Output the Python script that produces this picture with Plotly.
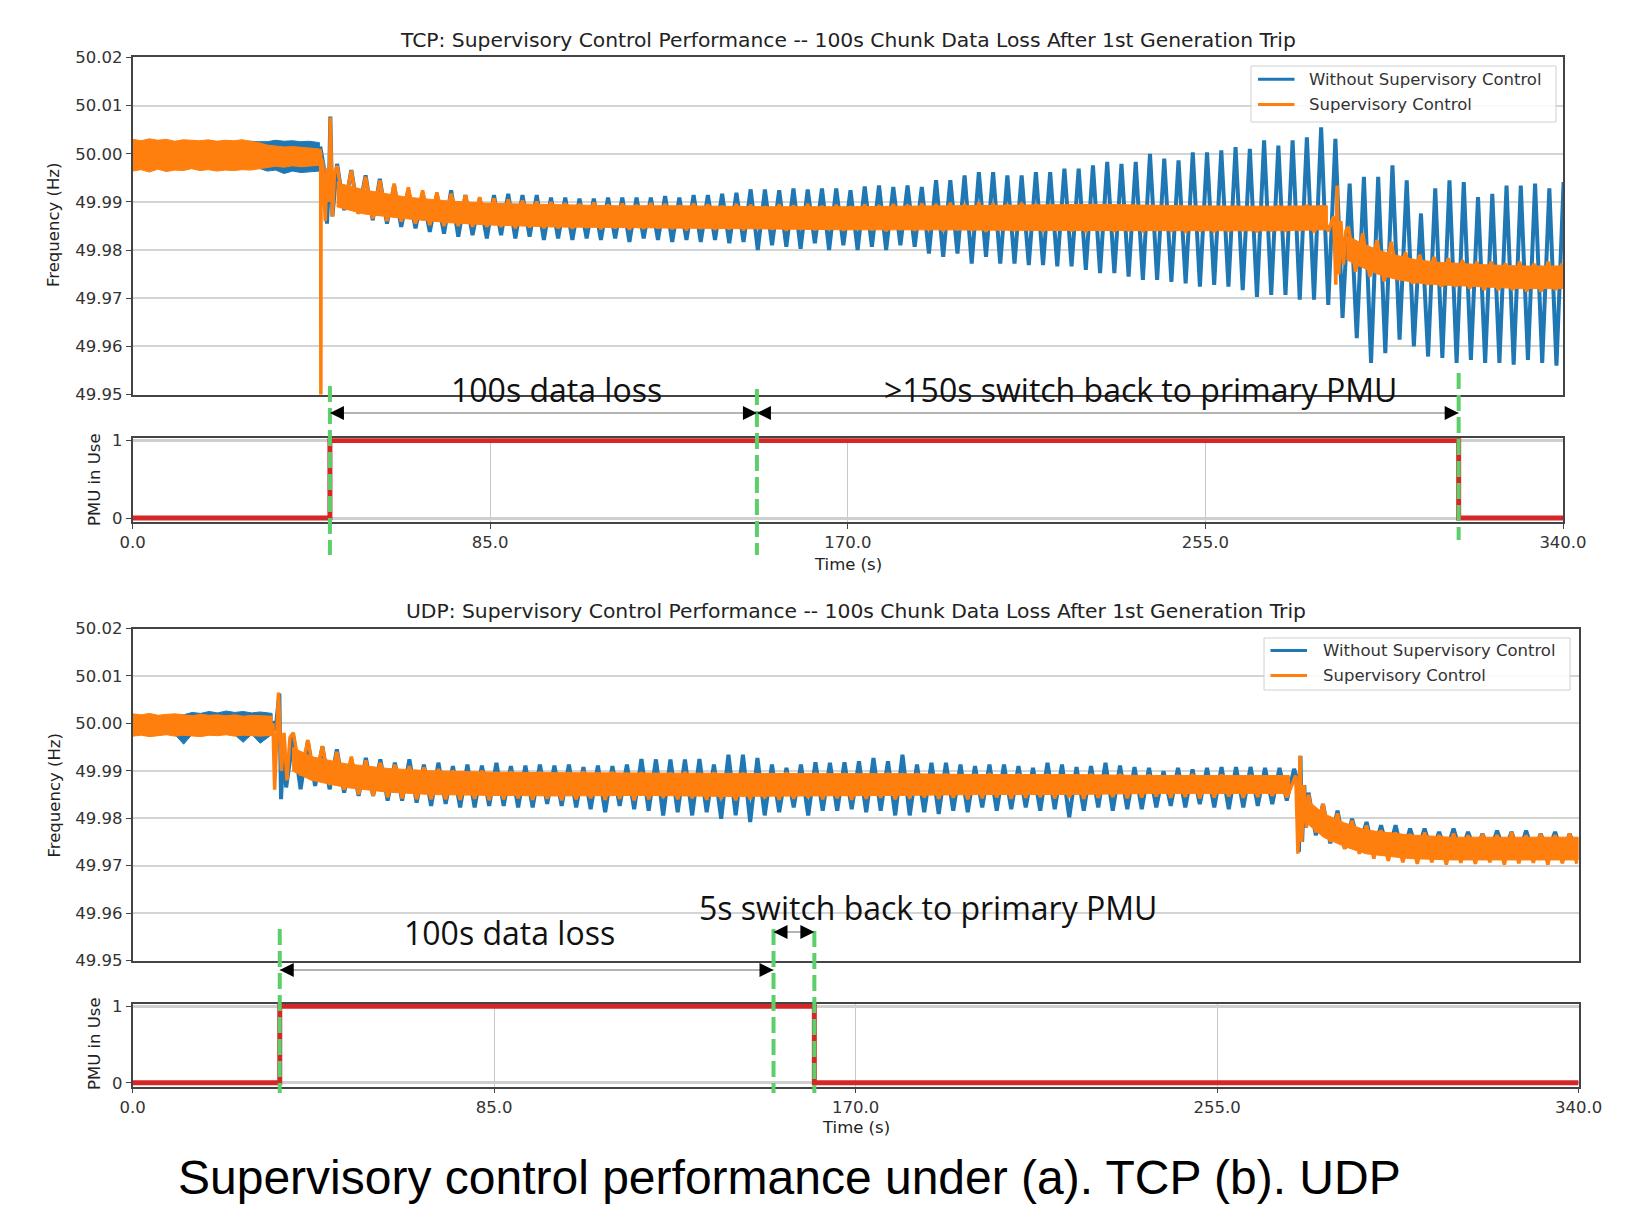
import plotly.graph_objects as go

W, H = 1637, 1210

BLUE = "#1f77b4"
ORANGE = "#ff7f0e"
RED = "#d62728"
GREEN = "#5ccf6a"

# ======================= TCP (values: mHz deviation from 50 Hz) =======================
TCP_PRE_T = [0, 2, 4, 6, 8, 10, 12, 14, 16, 18, 20, 22, 24, 26, 28, 30, 32, 34, 36, 38, 40, 42, 44.4]
TCP_WO_PRE_HI = [2.6, 2.4, 2.8, 2.5, 2.7, 2.3, 2.6, 2.5, 2.4, 2.7, 2.5, 2.6, 2.3, 2.5, 2.6, 2.5, 2.5, 2.8, 2.6, 2.7, 2.5, 2.6, 2.3]
TCP_WO_PRE_LO = [-3.2, -3.0, -3.4, -3.0, -3.3, -3.1, -3.2, -2.9, -3.2, -3.0, -3.3, -3.1, -3.2, -3.0, -3.1, -3.0, -3.6, -3.4, -4.1, -3.6, -3.9, -3.7, -3.6]
TCP_SC_PRE_HI = [3.0, 2.7, 3.1, 2.8, 3.0, 2.6, 2.9, 2.8, 2.7, 2.9, 2.6, 2.8, 2.7, 2.9, 2.6, 2.3, 1.8, 1.6, 1.4, 1.5, 1.3, 1.2, 1.0]
TCP_SC_PRE_LO = [-3.6, -3.3, -3.8, -3.2, -3.7, -3.4, -3.5, -3.1, -3.5, -3.3, -3.6, -3.4, -3.5, -3.3, -3.4, -3.2, -2.9, -2.6, -2.8, -2.5, -2.7, -2.6, -2.4]

TCP_WO_TRIP_T = [44.6, 45.4, 46.2, 46.7, 47.0, 47.5]
TCP_WO_TRIP = [1.5, -2.5, -14.5, -6.0, 7.7, -13.0]
TCP_SC_TRIP_T = [44.5, 44.7, 44.75, 44.8, 45.2, 45.8, 46.2, 46.7, 47.0, 47.5, 48.0]
TCP_SC_TRIP = [1.0, 0.0, -60.0, -1.0, -2.0, -14.0, -3.0, -10.0, 7.5, -13.0, -4.0]

TCP_CYCLE_START = 48.6
TCP_PERIOD = 3.39
TCP_WO_HI = [-2.1, -3.4, -4.5, -5.2, -6.6, -7.6, -8.3, -8.6, -7.6, -8.6,
             -9.3, -8.6, -8.3, -8.6, -8.6, -9.1, -9.1, -9.3, -9.3, -9.1,
             -9.1, -9.1, -9.1, -8.8, -9.1, -8.6, -8.6, -8.3, -8.1, -7.4,
             -7.4, -7.6, -7.2, -7.4, -7.2, -7.2, -7.6, -6.8, -6.6, -6.9,
             -6.6, -6.9, -5.5, -5.5, -4.5, -3.8, -3.8, -4.5, -4.5, -3.8,
             -3.8, -3.1, -3.1, -2.4, -1.7, -2.1, -1.7, 0.0, -1.0, -1.4,
             0.3, 0.3, 0.7, 1.4, 1.0, 2.8, 1.7, 2.8, 3.4, 5.5,
             3.1,
             -6.2, -4.8, -4.8, -2.4, -5.5, -12.4, -7.2, -5.5, -5.9, -9.0,
             -8.3, -6.6, -6.6, -6.2, -7.2, -5.9]
TCP_WO_LO = [-11.7, -12.4, -13.8, -14.5, -15.2, -15.5, -16.2, -16.6, -17.2, -16.9,
             -17.6, -16.9, -17.6, -17.2, -17.9, -17.6, -17.9, -17.6, -17.9, -17.6,
             -18.3, -17.6, -17.9, -18.3, -17.9, -18.3, -17.9, -18.6, -18.3, -20.0,
             -19.0, -19.3, -19.7, -18.6, -20.0, -19.0, -20.0, -19.3, -20.0, -19.0,
             -19.3, -20.7, -21.4, -20.7, -22.8, -21.4, -22.8, -22.8, -23.1, -23.1,
             -23.4, -23.4, -24.1, -24.8, -24.8, -25.5, -26.2, -26.2, -26.6, -26.9,
             -27.6, -27.2, -27.6, -28.3, -29.7, -29.3, -29.3, -30.3, -30.3, -31.4,
             -34.1,
             -38.3, -43.4, -41.4, -38.6, -40.0, -42.1, -42.4, -43.4, -42.8, -43.4,
             -43.4, -43.8, -42.8, -43.4, -44.0, -43.6]

TCP_SC_HI = [-2.5, -3.5, -4.8, -5.5, -6.2, -7.0, -7.6, -8.0, -8.3, -8.6,
             -9.0, -9.3, -9.5, -9.7, -9.9, -10.0,
             -10.2, -10.4, -10.1, -10.5, -10.3, -10.6, -10.2, -10.4, -10.7, -10.3,
             -10.5, -10.8, -10.4, -10.6, -10.9, -10.5, -10.7, -10.4, -10.8, -10.6,
             -10.9, -10.5, -10.7, -10.4, -10.6, -10.3, -10.5, -10.2, -10.4, -10.1,
             -10.3, -10.5, -10.2, -10.4, -10.6, -10.8, -10.5, -10.9, -11.0, -10.7,
             -11.1, -10.8, -11.0, -10.7, -11.1, -10.9, -11.0, -10.8, -11.2, -10.9,
             -10.7, -10.9, -10.6, -10.8]
TCP_SC_LO = [-11.5, -12.5, -13.5, -14.0, -14.1, -14.5, -14.8, -15.0, -15.0, -15.2,
             -15.2, -15.2, -15.5, -15.3, -15.5, -15.5,
             -15.6, -15.4, -15.7, -15.5, -15.8, -15.6, -15.5, -15.7, -15.9, -15.6,
             -15.8, -15.7, -15.9, -15.6, -15.8, -16.0, -15.7, -15.9, -15.8, -16.0,
             -15.7, -15.9, -16.1, -15.8, -16.0, -15.9, -16.1, -15.8, -16.0, -16.2,
             -15.9, -16.1, -16.0, -16.2, -15.9, -16.1, -16.3, -16.0, -16.2, -16.1,
             -16.3, -16.0, -16.2, -16.4, -16.1, -16.3, -16.2, -16.0, -16.3, -16.1,
             -16.2, -16.0, -16.3, -16.1]
TCP_SC_TRIP2_T = [285.5, 286.0, 286.3, 286.7, 287.2, 287.8, 288.4]
TCP_SC_TRIP2 = [-13.0, -27.2, -6.6, -25.0, -14.0, -23.0, -16.0]
TCP_SC_POST_START = 289.0
TCP_SC_POST_HI = [-15.2, -16.5, -17.9, -18.3, -20.5, -21.0, -21.4, -21.7, -22.1, -22.4,
                  -22.4, -22.8, -22.4, -22.8, -22.4, -22.8]
TCP_SC_POST_LO = [-24.5, -25.5, -26.5, -26.2, -27.0, -27.2, -27.6, -27.6, -28.0, -28.3,
                  -28.3, -28.3, -28.6, -28.6, -28.3, -28.6]
TCP_SC_CORE1_T = [48.5, 55, 65, 75, 85, 100, 115, 130, 150, 170, 190, 210, 230, 250, 270, 284]
TCP_SC_CORE1_TOP = [-6.0, -7.5, -9.0, -9.8, -10.3, -10.6, -10.8, -10.8, -11.0, -11.0, -10.8, -10.7, -10.5, -10.8, -10.9, -10.8]
TCP_SC_CORE1_BOT = [-11.0, -12.5, -13.5, -14.3, -14.8, -15.2, -15.3, -15.5, -15.6, -15.8, -15.8, -15.9, -15.9, -16.0, -16.0, -15.8]
TCP_SC_CORE2_T = [288.5, 292, 296, 300, 305, 310, 320, 330, 340]
TCP_SC_CORE2_TOP = [-17.0, -18.5, -20.0, -21.0, -22.0, -22.5, -23.0, -23.3, -23.3]
TCP_SC_CORE2_BOT = [-22.0, -23.5, -25.0, -26.0, -26.8, -27.2, -27.6, -28.0, -28.0]

TCP_PMU_T = [0, 46.9, 315.2, 340]
TCP_PMU = [0, 1, 0, 0]
TCP_EVENTS = [46.9, 148.4, 315.2]

# ======================= UDP =======================
UDP_PRE_T = [0, 2, 4, 6, 8, 10, 12, 14, 16, 18, 20, 22, 24, 26, 28, 30, 32.8]
UDP_WO_PRE_HI = [1.6, 1.5, 1.7, 1.5, 1.6, 1.7, 1.8, 2.3, 2.1, 2.5, 2.2, 2.6, 2.3, 2.5, 2.2, 2.4, 2.1]
UDP_WO_PRE_LO = [-2.3, -2.2, -2.4, -2.2, -2.3, -2.4, -4.4, -2.3, -2.2, -2.4, -2.3, -2.2, -2.4, -4.0, -2.3, -4.2, -2.3]
UDP_SC_PRE_HI = [2.0, 1.8, 2.1, 1.7, 1.9, 2.0, 1.8, 1.6, 1.9, 1.7, 1.8, 1.6, 1.8, 1.5, 1.7, 1.6, 1.5]
UDP_SC_PRE_LO = [-2.7, -2.5, -2.8, -2.6, -2.4, -2.7, -2.5, -2.6, -2.8, -2.5, -2.6, -2.4, -2.7, -2.5, -2.6, -2.7, -2.5]

UDP_WO_TRIP_T = [33.0, 33.6, 34.5, 34.9, 35.5, 36.1]
UDP_WO_TRIP = [0.5, -1.5, 6.3, -16.0, -5.0, -13.5]
UDP_SC_TRIP_T = [33.0, 33.4, 34.3, 35.0, 35.6, 36.3, 37.0]
UDP_SC_TRIP = [0.0, -14.0, 6.5, -10.0, -2.0, -12.0, -3.0]

UDP_CYCLE_START = 37.8
UDP_PERIOD = 3.41
UDP_WO_HI = [-2.8, -3.8, -4.9, -5.5, -7.6, -7.3, -7.6, -8.3, -7.6, -8.7,
             -8.3, -9.0, -8.7, -8.9, -8.3, -9.0, -8.9, -8.7, -8.9, -8.7,
             -9.2, -8.9, -9.0, -8.7, -7.5, -7.6, -7.6, -7.6, -7.5, -8.7,
             -6.6, -6.6, -7.3, -8.7, -9.4, -8.7, -8.2, -8.3, -8.2, -8.0,
             -7.3, -8.0,
             -6.6, -8.7, -8.3, -8.3, -8.7, -9.0, -8.7, -8.7, -9.0, -9.4,
             -8.3, -8.7, -9.2, -9.0, -8.3, -8.9, -9.2, -9.4, -10.1, -9.4,
             -9.7, -9.4, -9.2, -9.2, -9.2, -9.4, -9.4]
UDP_WO_LO = [-13.9, -13.2, -13.9, -14.6, -15.3, -15.3, -16.3, -16.3, -16.7, -17.4,
             -17.0, -17.7, -17.7, -17.4, -17.4, -17.7, -17.7, -17.0, -17.4, -17.7,
             -18.1, -18.75, -17.4, -18.1, -18.4, -19.4, -18.75, -19.4, -18.75, -20.1,
             -19.4, -20.8, -19.4, -18.75, -17.7, -19.4, -18.4, -18.4, -18.1, -18.75,
             -18.4, -19.4,
             -19.4, -18.75, -19.1, -18.4, -18.75, -17.7, -18.4, -18.1, -17.7, -18.4,
             -18.1, -19.8, -18.4, -17.7, -18.4, -18.1, -18.1, -17.7, -17.4, -17.7,
             -17.0, -17.7, -18.1, -17.7, -17.4, -17.0, -16.3]
UDP_WO_TRIP2_T = [273.1, 273.9, 274.25, 274.6, 275.0, 275.5, 275.9]
UDP_WO_TRIP2 = [-9.6, -12.0, -27.1, -6.9, -25.0, -13.0, -22.0]
UDP_POST_START = 276.5
UDP_WO_POST_HI = [-14.6, -17.0, -18.4, -20.1, -20.8, -21.5, -21.5, -22.2, -22.2, -22.9,
                  -22.2, -22.9, -23.3, -22.6, -22.9, -22.6, -23.3, -22.9, -23.3]
UDP_WO_POST_LO = [-23.6, -25.3, -26.4, -26.0, -27.1, -27.4, -27.8, -27.1, -27.4, -27.1,
                  -27.4, -27.1, -27.4, -27.1, -27.8, -27.4, -27.1, -27.8, -27.1]

UDP_SC_HI = [-2.0, -3.5, -4.8, -6.0, -7.0, -7.8, -8.3, -8.7, -9.0, -9.3, -9.6,
             -9.9, -10.2, -10.0, -10.3, -10.1, -10.4, -10.2, -10.5, -10.3, -10.1,
             -10.4, -10.2, -10.5, -10.3, -10.6, -10.4, -10.2, -10.5, -10.3, -10.6,
             -10.4, -10.7, -10.5, -10.3, -10.6, -10.4, -10.7, -10.5, -10.8, -10.6,
             -10.4, -10.7, -10.5, -10.8, -10.6, -10.9, -10.7, -10.5, -10.8, -10.6,
             -10.9, -10.7, -11.0, -10.8, -10.6, -10.9, -10.7, -11.0, -10.8, -11.1,
             -10.9, -10.7, -11.0, -10.8, -11.1, -10.9, -11.2, -11.0]
UDP_SC_LO = [-11.0, -12.0, -13.0, -14.0, -15.0, -15.3, -15.6, -15.8, -16.0, -16.0, -16.0,
             -16.1, -15.9, -16.2, -16.0, -15.8, -16.1, -15.9, -16.2, -16.0, -15.8,
             -16.1, -15.9, -16.2, -16.0, -15.7, -16.0, -15.8, -16.1, -15.9, -16.2,
             -16.0, -15.8, -16.1, -15.9, -15.7, -16.0, -15.8, -16.1, -15.9, -15.7,
             -16.0, -15.8, -15.6, -15.9, -15.7, -16.0, -15.8, -15.6, -15.9, -15.7,
             -15.5, -15.8, -15.6, -15.9, -15.7, -15.5, -15.8, -15.6, -15.4, -15.7,
             -15.5, -15.8, -15.6, -15.4, -15.7, -15.5, -15.3, -15.6]
UDP_SC_TRIP2_T = [273.5, 274.0, 274.5, 274.9, 275.4, 276.0]
UDP_SC_TRIP2 = [-11.0, -27.5, -6.8, -25.0, -13.0, -22.0]
UDP_SC_POST_HI = [-15.0, -17.0, -19.0, -20.5, -21.5, -22.5, -23.0, -23.3, -23.0, -23.5,
                  -23.2, -23.6, -23.3, -23.5, -23.0, -23.6, -23.3, -23.5, -23.2]
UDP_SC_POST_LO = [-23.0, -25.0, -26.5, -27.5, -28.5, -29.0, -29.3, -29.6, -29.3, -29.8,
                  -29.4, -29.6, -29.3, -29.8, -29.5, -29.4, -29.8, -29.5, -29.6]
UDP_SC_CORE1_T = [37.5, 42, 50, 60, 70, 85, 100, 120, 140, 160, 180, 200, 220, 240, 260, 272]
UDP_SC_CORE1_TOP = [-5.0, -7.0, -8.5, -9.5, -10.0, -10.3, -10.4, -10.5, -10.5, -10.6, -10.6, -10.8, -10.8, -11.0, -11.0, -11.0]
UDP_SC_CORE1_BOT = [-10.0, -12.0, -13.5, -14.5, -15.0, -15.2, -15.3, -15.2, -15.4, -15.3, -15.2, -15.0, -15.0, -14.8, -14.8, -14.8]
UDP_SC_CORE2_T = [276, 280, 285, 290, 300, 310, 320, 330, 340]
UDP_SC_CORE2_TOP = [-16.0, -19.0, -21.0, -22.5, -23.5, -24.0, -24.0, -24.0, -24.0]
UDP_SC_CORE2_BOT = [-21.0, -24.0, -26.0, -27.5, -28.5, -28.8, -28.8, -28.8, -28.8]

UDP_PMU_T = [0, 34.6, 160.3, 340]
UDP_PMU = [0, 1, 0, 0]
UDP_EVENTS = [34.6, 150.7, 160.3]

FREQ_TICKS = [49.95, 49.96, 49.97, 49.98, 49.99, 50.00, 50.01, 50.02]
TIME_TICKS = [0, 85, 170, 255, 340]
SERIES_NAMES = ["Without Supervisory Control", "Supervisory Control"]
TITLES = ["TCP: Supervisory Control Performance -- 100s Chunk Data Loss After 1st Generation Trip",
          "UDP: Supervisory Control Performance -- 100s Chunk Data Loss After 1st Generation Trip"]
CAPTION = "Supervisory control performance under (a). TCP (b). UDP"


# ---------------- helpers ----------------
def hz(vals):
    return [None if v is None else 50 + v / 1000.0 for v in vals]


def zigzag(t0, period, hi, lo):
    xs, ys = [], []
    for k, (h, l) in enumerate(zip(hi, lo)):
        xs += [t0 + k * period, t0 + (k + 0.5) * period]
        ys += [h, l]
    return xs, ys


def band(t, top, bot):
    return list(t) + list(t)[::-1], list(top) + list(bot)[::-1]


def px(py):
    return 1 - py / H


fig = go.Figure()


def add_panel(xa, ya, pre_t, wo_pre_hi, wo_pre_lo, sc_pre_hi, sc_pre_lo,
              wo_segments, sc_segments, cores):
    bx, by = band(pre_t, wo_pre_hi, wo_pre_lo)
    fig.add_trace(go.Scatter(x=bx, y=hz(by), xaxis=xa, yaxis=ya, mode="lines", fill="toself",
                             fillcolor=BLUE, line=dict(color=BLUE, width=1), showlegend=False,
                             hoverinfo="skip"))
    xs, ys = [], []
    for sx, sy in wo_segments:
        xs += sx
        ys += sy
    fig.add_trace(go.Scatter(x=xs, y=hz(ys), xaxis=xa, yaxis=ya, mode="lines",
                             line=dict(color=BLUE, width=4), name=SERIES_NAMES[0],
                             showlegend=False))
    fx, fy = band(pre_t, sc_pre_hi, sc_pre_lo)
    for ct, ctop, cbot in cores:
        cx, cy = band(ct, ctop, cbot)
        fx += [None] + cx
        fy += [None] + cy
    fig.add_trace(go.Scatter(x=fx, y=hz(fy), xaxis=xa, yaxis=ya, mode="lines", fill="toself",
                             fillcolor=ORANGE, line=dict(color=ORANGE, width=1), showlegend=False,
                             hoverinfo="skip"))
    xs, ys = [], []
    for sx, sy in sc_segments:
        xs += sx
        ys += sy
    fig.add_trace(go.Scatter(x=xs, y=hz(ys), xaxis=xa, yaxis=ya, mode="lines",
                             line=dict(color=ORANGE, width=3.5), name=SERIES_NAMES[1],
                             showlegend=False))


# TCP
wo_z = zigzag(TCP_CYCLE_START, TCP_PERIOD, TCP_WO_HI, TCP_WO_LO)
sc_z1 = zigzag(TCP_CYCLE_START, TCP_PERIOD, TCP_SC_HI, TCP_SC_LO)
sc_z2 = zigzag(TCP_SC_POST_START, TCP_PERIOD, TCP_SC_POST_HI, TCP_SC_POST_LO)
add_panel("x", "y", TCP_PRE_T, TCP_WO_PRE_HI, TCP_WO_PRE_LO, TCP_SC_PRE_HI, TCP_SC_PRE_LO,
          [(TCP_WO_TRIP_T, TCP_WO_TRIP), wo_z],
          [(TCP_SC_TRIP_T, TCP_SC_TRIP), sc_z1, (TCP_SC_TRIP2_T, TCP_SC_TRIP2), sc_z2],
          [(TCP_SC_CORE1_T, TCP_SC_CORE1_TOP, TCP_SC_CORE1_BOT),
           (TCP_SC_CORE2_T, TCP_SC_CORE2_TOP, TCP_SC_CORE2_BOT)])
fig.add_trace(go.Scatter(x=TCP_PMU_T, y=TCP_PMU, xaxis="x2", yaxis="y2", mode="lines",
                         line=dict(color=RED, width=5, shape="hv"), showlegend=False))

# UDP
wo_z1 = zigzag(UDP_CYCLE_START, UDP_PERIOD, UDP_WO_HI, UDP_WO_LO)
wo_z2 = zigzag(UDP_POST_START, UDP_PERIOD, UDP_WO_POST_HI, UDP_WO_POST_LO)
sc_z1 = zigzag(UDP_CYCLE_START, UDP_PERIOD, UDP_SC_HI, UDP_SC_LO)
sc_z2 = zigzag(UDP_POST_START, UDP_PERIOD, UDP_SC_POST_HI, UDP_SC_POST_LO)
add_panel("x3", "y3", UDP_PRE_T, UDP_WO_PRE_HI, UDP_WO_PRE_LO, UDP_SC_PRE_HI, UDP_SC_PRE_LO,
          [(UDP_WO_TRIP_T, UDP_WO_TRIP), wo_z1, (UDP_WO_TRIP2_T, UDP_WO_TRIP2), wo_z2],
          [(UDP_SC_TRIP_T, UDP_SC_TRIP), sc_z1, (UDP_SC_TRIP2_T, UDP_SC_TRIP2), sc_z2],
          [(UDP_SC_CORE1_T, UDP_SC_CORE1_TOP, UDP_SC_CORE1_BOT),
           (UDP_SC_CORE2_T, UDP_SC_CORE2_TOP, UDP_SC_CORE2_BOT)])
fig.add_trace(go.Scatter(x=UDP_PMU_T, y=UDP_PMU, xaxis="x4", yaxis="y4", mode="lines",
                         line=dict(color=RED, width=5, shape="hv"), showlegend=False))

# ---------------- axes ----------------
TICKFONT = dict(family="DejaVu Sans", size=16.5, color="#333")
AX_LINE = dict(showline=True, linecolor="#444", linewidth=1.5, mirror=True,
               ticks="outside", ticklen=5, tickcolor="#444", zeroline=False)

XD_TCP = [132.6 / W, 1563 / W]
XD_UDP = [132.6 / W, 1578.6 / W]

freq_y = dict(range=[49.95, 50.02], tickvals=FREQ_TICKS, ticktext=["%.2f" % v for v in FREQ_TICKS],
              showgrid=True, gridcolor="#d4d4d4", gridwidth=2, tickfont=TICKFONT, **AX_LINE)
pmu_x = dict(range=[0, 340], tickvals=TIME_TICKS, ticktext=["%.1f" % v for v in TIME_TICKS],
             showgrid=True, gridcolor="#c8c8c8", gridwidth=1, tickfont=TICKFONT, **AX_LINE)
freq_x = dict(range=[0, 340], showgrid=False, showticklabels=False,
              showline=True, linecolor="#444", linewidth=1.5, mirror=True, zeroline=False)

fig.update_layout(
    width=W, height=H, autosize=False,
    margin=dict(l=0, r=0, t=0, b=0, pad=0, autoexpand=False),
    paper_bgcolor="white", plot_bgcolor="white",
    showlegend=False,
    xaxis=dict(domain=XD_TCP, anchor="y", **freq_x),
    yaxis=dict(domain=[px(394.6), px(57.4)], anchor="x", **freq_y),
    xaxis2=dict(domain=XD_TCP, anchor="y2", **pmu_x),
    yaxis2=dict(domain=[px(521.9), px(438.3)], anchor="x2", range=[-0.05, 1.03], tickvals=[0, 1],
                showgrid=True, gridcolor="#cfcfcf", gridwidth=3, tickfont=TICKFONT, **AX_LINE),
    xaxis3=dict(domain=XD_UDP, anchor="y3", **freq_x),
    yaxis3=dict(domain=[px(960.5), px(628.5)], anchor="x3", **freq_y),
    xaxis4=dict(domain=XD_UDP, anchor="y4", **pmu_x),
    yaxis4=dict(domain=[px(1086.6), px(1003.5)], anchor="x4", range=[-0.05, 1.035], tickvals=[0, 1],
                showgrid=True, gridcolor="#cfcfcf", gridwidth=3, tickfont=TICKFONT, **AX_LINE),
)

shapes = []
annots = []


def event_lines(xref, events, spans):
    for t, (y0, y1) in zip(events, spans):
        shapes.append(dict(type="line", xref=xref, yref="paper", x0=t, x1=t, y0=px(y0), y1=px(y1),
                           line=dict(color=GREEN, width=4, dash="16px,6px")))


def arrow(xref, xa, xb, ypix):
    shapes.append(dict(type="line", xref=xref, yref="paper", x0=xa, x1=xb, y0=px(ypix), y1=px(ypix),
                       line=dict(color="#9a9a9a", width=1.5)))
    annots.append(dict(x=xa, y=px(ypix), xref=xref, yref="paper", text="", showarrow=True,
                       ax=14, ay=0, axref="pixel", ayref="pixel", arrowhead=2, arrowsize=1.4,
                       arrowwidth=2, arrowcolor="black", standoff=0))
    annots.append(dict(x=xb, y=px(ypix), xref=xref, yref="paper", text="", showarrow=True,
                       ax=-14, ay=0, axref="pixel", ayref="pixel", arrowhead=2, arrowsize=1.4,
                       arrowwidth=2, arrowcolor="black", standoff=0))


event_lines("x2", TCP_EVENTS, [(386, 555), (389, 555), (373, 540)])
arrow("x2", TCP_EVENTS[0], TCP_EVENTS[1], 413)
arrow("x2", TCP_EVENTS[1], TCP_EVENTS[2], 413)
event_lines("x4", UDP_EVENTS, [(929, 1093), (929, 1093), (931, 1093)])
arrow("x4", UDP_EVENTS[0], UDP_EVENTS[1], 970)
arrow("x4", UDP_EVENTS[1], UDP_EVENTS[2], 932)

NOTE_FONT = dict(family="Open Sans", size=32, color="#111")
annots.append(dict(x=556 / W, y=px(389.5), xref="paper", yref="paper", text="100s data loss",
                   showarrow=False, font=NOTE_FONT, xanchor="center", yanchor="middle"))
annots.append(dict(x=1140 / W, y=px(389.5), xref="paper", yref="paper",
                   text=">150s switch back to primary PMU",
                   showarrow=False, font=NOTE_FONT, xanchor="center", yanchor="middle"))
annots.append(dict(x=509 / W, y=px(932.5), xref="paper", yref="paper", text="100s data loss",
                   showarrow=False, font=NOTE_FONT, xanchor="center", yanchor="middle"))
annots.append(dict(x=928 / W, y=px(907), xref="paper", yref="paper",
                   text="5s switch back to primary PMU",
                   showarrow=False, font=NOTE_FONT, xanchor="center", yanchor="middle"))

TITLE_FONT = dict(family="DejaVu Sans", size=20.3, color="#222")
LABEL_FONT = dict(family="DejaVu Sans", size=16.5, color="#222")
annots.append(dict(x=848 / W, y=px(39.7), xref="paper", yref="paper", text=TITLES[0],
                   showarrow=False, font=TITLE_FONT, xanchor="center", yanchor="middle"))
annots.append(dict(x=856 / W, y=px(610.7), xref="paper", yref="paper", text=TITLES[1],
                   showarrow=False, font=TITLE_FONT, xanchor="center", yanchor="middle"))
for (xx, yy, txt) in [(54, 225, "Frequency (Hz)"), (94, 480, "PMU in Use"),
                      (54, 795.5, "Frequency (Hz)"), (94, 1044, "PMU in Use")]:
    annots.append(dict(x=xx / W, y=px(yy), xref="paper", yref="paper", text=txt, textangle=-90,
                       showarrow=False, font=LABEL_FONT, xanchor="center", yanchor="middle"))
for (xx, yy) in [(848, 564), (856, 1127.5)]:
    annots.append(dict(x=xx / W, y=px(yy), xref="paper", yref="paper", text="Time (s)",
                       showarrow=False, font=LABEL_FONT, xanchor="center", yanchor="middle"))
annots.append(dict(x=789 / W, y=px(1177), xref="paper", yref="paper", text=CAPTION,
                   showarrow=False, font=dict(family="Liberation Sans", size=48, color="black"),
                   xanchor="center", yanchor="middle", borderpad=0))


def legend(x0, x1, y0, y1, sx0, sx1, tx, ys):
    shapes.append(dict(type="rect", xref="paper", yref="paper", x0=x0 / W, x1=x1 / W,
                       y0=px(y1), y1=px(y0), line=dict(color="#d0d0d0", width=1),
                       fillcolor="rgba(255,255,255,0.85)"))
    for name, col, yy in zip(SERIES_NAMES, [BLUE, ORANGE], ys):
        shapes.append(dict(type="line", xref="paper", yref="paper", x0=sx0 / W, x1=sx1 / W,
                           y0=px(yy), y1=px(yy), line=dict(color=col, width=3)))
        annots.append(dict(x=tx / W, y=px(yy), xref="paper", yref="paper", text=name,
                           showarrow=False, font=dict(family="DejaVu Sans", size=16.5, color="#333"),
                           xanchor="left", yanchor="middle"))


legend(1251, 1556, 66, 122, 1258, 1294.5, 1307, [79.3, 104.4])
legend(1264, 1570, 638, 690, 1270.5, 1307, 1320.6, [650.4, 675.5])

fig.update_layout(shapes=shapes, annotations=annots)
fig.write_html("out.html", config={"displayModeBar": False},
               post_script="document.body.style.margin='0px';"
                           "document.documentElement.style.overflow='hidden';")
